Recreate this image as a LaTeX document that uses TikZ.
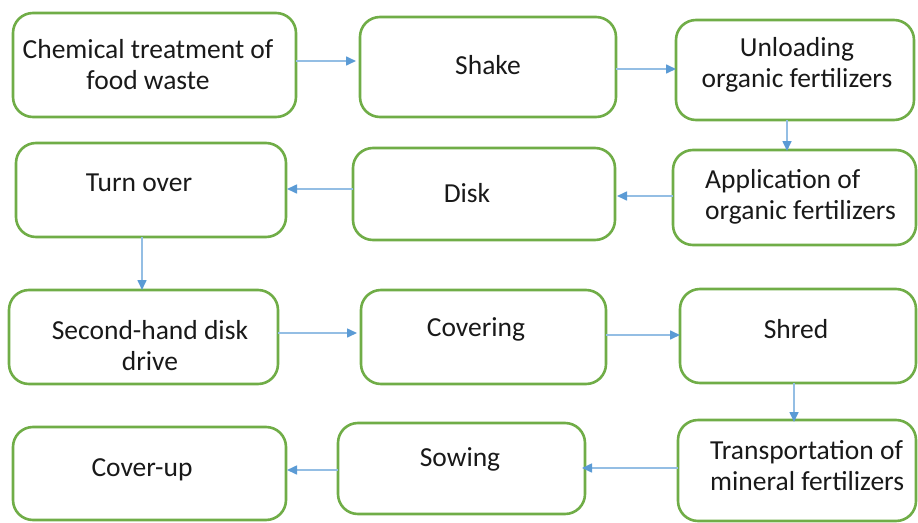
\documentclass[tikz,border=0pt]{standalone}
\usepackage{fontspec}
\setmainfont{Carlito}
\usetikzlibrary{arrows.meta}
\definecolor{boxgreen}{HTML}{70AD47}
\definecolor{arrblue}{HTML}{5B9BD5}
\tikzset{
  box/.style={draw=boxgreen, line width=2.6pt, rounded corners=20pt, inner sep=0pt, outer sep=0pt, fill=white},
  lbl/.style={inner sep=0pt, text=black!90, font=\fontsize{27.5}{31}\selectfont},
  arr/.style={draw=arrblue!65, line width=1.6pt, -{Triangle[length=10pt,width=9pt,color=arrblue]}}
}
\begin{document}
\begin{tikzpicture}[x=1pt,y=-1pt]
\useasboundingbox (0,0) rectangle (918,522);
% boxes: centre, width, height
\node[box, minimum width=283pt, minimum height=104pt] (A) at (154.5,65) {};
\node[box, minimum width=256pt, minimum height=100pt] (B) at (488,67) {};
\node[box, minimum width=238pt, minimum height=100pt] (C) at (795,70) {};
\node[box, minimum width=270pt, minimum height=94pt] (D) at (151,190) {};
\node[box, minimum width=262pt, minimum height=92pt] (E) at (484,194) {};
\node[box, minimum width=243pt, minimum height=95pt] (F) at (794.5,197.5) {};
\node[box, minimum width=269pt, minimum height=94pt] (G) at (143.5,337) {};
\node[box, minimum width=245pt, minimum height=94pt] (H) at (483.5,337) {};
\node[box, minimum width=236pt, minimum height=94pt] (I) at (798,336) {};
\node[box, minimum width=273pt, minimum height=93pt] (J) at (149.5,473.5) {};
\node[box, minimum width=247pt, minimum height=91pt] (K) at (461.5,468.5) {};
\node[box, minimum width=238pt, minimum height=101pt] (L) at (797,470.5) {};
% labels
\node[lbl, align=center] (tA) at (148,64.5) {Chemical treatment of\\food waste};
\node[lbl] (tB) at (488,65) {Shake};
\node[lbl, align=center] (tC) at (797,64.5) {Unloading\\organic fertilizers};
\node[lbl] (tD) at (139,183) {Turn over};
\node[lbl] (tE) at (467,193) {Disk};
\node[lbl, align=left, anchor=west] (tF) at (705,197) {Application of\\organic fertilizers};
\node[lbl, align=center] (tG) at (150,345.5) {Second-hand disk\\drive};
\node[lbl] (tH) at (476,329) {Covering};
\node[lbl] (tI) at (796,329) {Shred};
\node[lbl] (tJ) at (142,470) {Cover-up};
\node[lbl] (tK) at (460,459) {Sowing};
\node[lbl, align=left, anchor=west] (tL) at (710,466) {Transportation of\\mineral fertilizers};
% connectors
\draw[arr] (A.east |- 0,61) -- ([xshift=-4pt]B.west |- 0,61);
\draw[arr] (B.east |- 0,69) -- ([xshift=0pt]C.west |- 0,69);
\draw[arr] (787,0 |- C.south) -- ([yshift=-1pt]787,0 |- F.north);
\draw[arr] (F.west |- 0,196) -- ([xshift=2pt]E.east |- 0,196);
\draw[arr] (E.west |- 0,189) -- ([xshift=1pt]D.east |- 0,189);
\draw[arr] (142,0 |- D.south) -- (142,0 |- G.north);
\draw[arr] (G.east |- 0,333) -- ([xshift=-4pt]H.west |- 0,333);
\draw[arr] (H.east |- 0,335) -- (I.west |- 0,335);
\draw[arr] (794,0 |- I.south) -- ([yshift=-2pt]794,0 |- L.north);
\draw[arr] (L.west |- 0,468) -- ([xshift=-3pt]K.east |- 0,468);
\draw[arr] (K.west |- 0,470) -- ([xshift=1pt]J.east |- 0,470);
\end{tikzpicture}
\end{document}
